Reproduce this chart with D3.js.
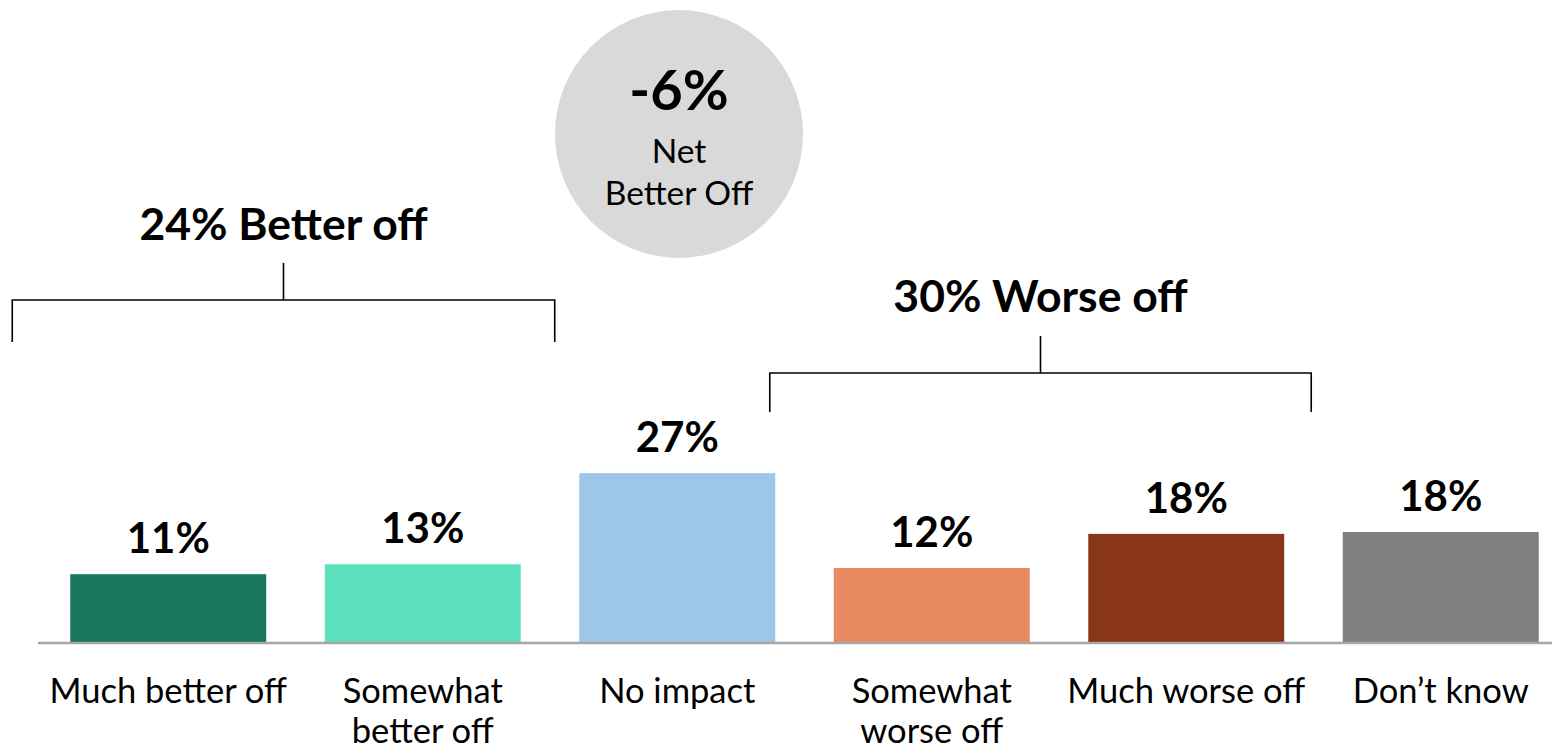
<!DOCTYPE html>
<html>
<head>
<meta charset="utf-8">
<script src="https://cdn.jsdelivr.net/npm/d3@7"></script>
<style>
html,body{margin:0;padding:0;background:#fff;}
svg{display:block;}
</style>
</head>
<body>
<svg id="chart" width="1552" height="754"></svg>
<script>
// ---- data ----
const categories = ["Much better off", "Somewhat better off", "No impact", "Somewhat worse off", "Much worse off", "Don’t know"];
const categoryLines = [["Much better off"], ["Somewhat", "better off"], ["No impact"], ["Somewhat", "worse off"], ["Much worse off"], ["Don’t know"]];
const values = [11.1, 12.7, 27.4, 12.1, 17.6, 17.9];
const valueLabels = ["11%", "13%", "27%", "12%", "18%", "18%"];
const colors = ["#18775c", "#5ce0be", "#9dc6e8", "#e88a61", "#883616", "#808080"];
const groups = [
  {label: "24% Better off", from: "Much better off", to: "Somewhat better off"},
  {label: "30% Worse off", from: "Somewhat worse off", to: "Much worse off"}
];
const netValue = "-6%";
const netLines = ["Net", "Better Off"];

// ---- layout ----
const svg = d3.select("#chart");
const baseY = 643;
const x = d3.scaleBand().domain(categories).range([41, 1568]).paddingInner(0.23).paddingOuter(0.115);
const y = d3.scaleLinear().domain([0, 30]).range([baseY, baseY - 30 * 6.2]);
const font = "Lato, 'Open Sans', sans-serif";

// bars
svg.selectAll("rect.bar").data(categories).join("rect")
  .attr("class", "bar")
  .attr("x", d => x(d))
  .attr("width", x.bandwidth())
  .attr("y", (d, i) => y(values[i]))
  .attr("height", (d, i) => baseY - y(values[i]))
  .attr("fill", (d, i) => colors[i]);

// baseline axis
const axis = d3.axisBottom(x).tickSize(0).tickFormat("");
const ag = svg.append("g").attr("transform", `translate(0,${baseY})`).call(axis);
ag.select(".domain").attr("d", `M38,0H1552`).attr("stroke", "#a6a6a6").attr("stroke-width", 2.5);

// value labels
svg.selectAll("text.val").data(categories).join("text")
  .attr("class", "val")
  .attr("x", d => x(d) + x.bandwidth() / 2)
  .attr("y", (d, i) => y(values[i]) - 21)
  .attr("text-anchor", "middle")
  .attr("font-family", font).attr("font-weight", 700).attr("font-size", 42)
  .attr("fill", "#000")
  .text((d, i) => valueLabels[i]);

// category labels
const cl = svg.selectAll("text.cat").data(categories).join("text")
  .attr("class", "cat")
  .attr("text-anchor", "middle")
  .attr("font-family", font).attr("font-size", 34.5)
  .attr("fill", "#000");
cl.each(function(d, i) {
  const t = d3.select(this);
  categoryLines[i].forEach((ln, j) => {
    t.append("tspan").attr("x", x(d) + x.bandwidth() / 2).attr("y", 703 + j * 40).text(ln);
  });
});

// brackets
const bracketSpecs = [
  {top: 263, bar: 300, bottom: 342, padL: 58, padR: 34, textY: 240},
  {top: 336, bar: 373, bottom: 412, padL: 64, padR: 27, textY: 312}
];
groups.forEach((g, i) => {
  const s = bracketSpecs[i];
  const x0 = x(g.from) - s.padL;
  const x1 = x(g.to) + x.bandwidth() + s.padR;
  const xm = (x0 + x1) / 2;
  svg.append("path")
    .attr("d", `M${x0},${s.bottom}V${s.bar}H${x1}V${s.bottom}M${xm},${s.bar}V${s.top}`)
    .attr("fill", "none").attr("stroke", "#000").attr("stroke-width", 1.6);
  svg.append("text")
    .attr("x", xm).attr("y", s.textY)
    .attr("text-anchor", "middle")
    .attr("font-family", font).attr("font-weight", 700).attr("font-size", 44.5)
    .text(g.label);
});

// net circle
const cx = 679, cy = 134;
svg.append("circle").attr("cx", cx).attr("cy", cy).attr("r", 124).attr("fill", "#d9d9d9");
svg.append("text").attr("x", cx).attr("y", 110).attr("text-anchor", "middle")
  .attr("font-family", font).attr("font-weight", 700).attr("font-size", 56).text(netValue);
netLines.forEach((ln, j) => {
  svg.append("text").attr("x", cx).attr("y", 163 + j * 42).attr("text-anchor", "middle")
    .attr("font-family", font).attr("font-size", 33.5).text(ln);
});
</script>
</body>
</html>
